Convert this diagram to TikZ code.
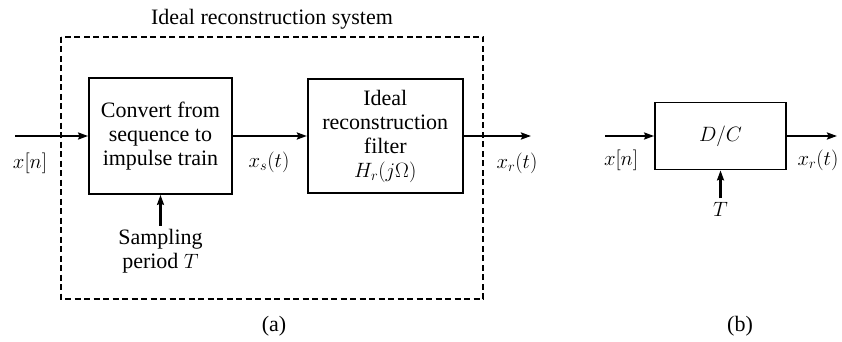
\documentclass[tikz,border=0pt]{standalone}
\usepackage{fontspec}
\setmainfont{Liberation Serif}
\usepackage{amsmath}
\usetikzlibrary{arrows.meta,positioning,calc}

\begin{document}
\begin{tikzpicture}[x=1pt,y=1pt,
  font=\fontsize{22}{24}\selectfont,
  blk/.style={draw,line width=1.8pt,align=center,inner sep=2pt},
  sysbox/.style={draw,line width=1.3pt,dash pattern=on 6pt off 3.5pt},
  arr/.style={-{Stealth[length=10pt,width=7pt,inset=1.5pt]},line width=2.2pt}]
  \useasboundingbox (0,0) rectangle (842,-342);
  % (a) ideal reconstruction system
  \node[blk,minimum width=143pt,minimum height=116pt] (conv) at (160.5,-136)
     {Convert from\\sequence to\\impulse train};
  \node[blk,minimum width=155pt,minimum height=114pt,right=74pt of conv] (filt)
     {Ideal\\reconstruction\\filter\\$H_r(j\Omega)$};
  \coordinate (xin) at (15,-136);
  \coordinate (xout) at (531,-136);
  \draw[arr] (xin) -- (conv);
  \draw[arr] (conv) -- (filt);
  \draw[arr] (filt) -- (xout);
  \node (xn) at (30,-163) {$x[n]$};
  \node (xs) at (269,-162) {$x_s(t)$};
  \node (xr) at (517,-163) {$x_r(t)$};
  \node[align=center,below=31pt of conv.south] (samp) {Sampling\\period $T$};
  \draw[arr] (samp) -- (conv);
  \draw[sysbox] (61,-37) rectangle (483,-299);
  \node (title) at (272,-19) {Ideal reconstruction system};
  \node (capa) at (274,-326) {(a)};
  % (b) D/C block
  \node[blk,minimum width=131pt,minimum height=67pt] (dc) at (720.5,-136) {$D/C$};
  \coordinate (din) at (605,-136);
  \coordinate (dout) at (837,-136);
  \draw[arr] (din) -- (dc);
  \draw[arr] (dc) -- (dout);
  \node (dxn) at (621,-160) {$x[n]$};
  \node (dxr) at (818,-160) {$x_r(t)$};
  \node[below=28pt of dc.south] (dt) {$T$};
  \draw[arr] (dt) -- (dc);
  \node (capb) at (740,-326) {(b)};
\end{tikzpicture}
\end{document}
